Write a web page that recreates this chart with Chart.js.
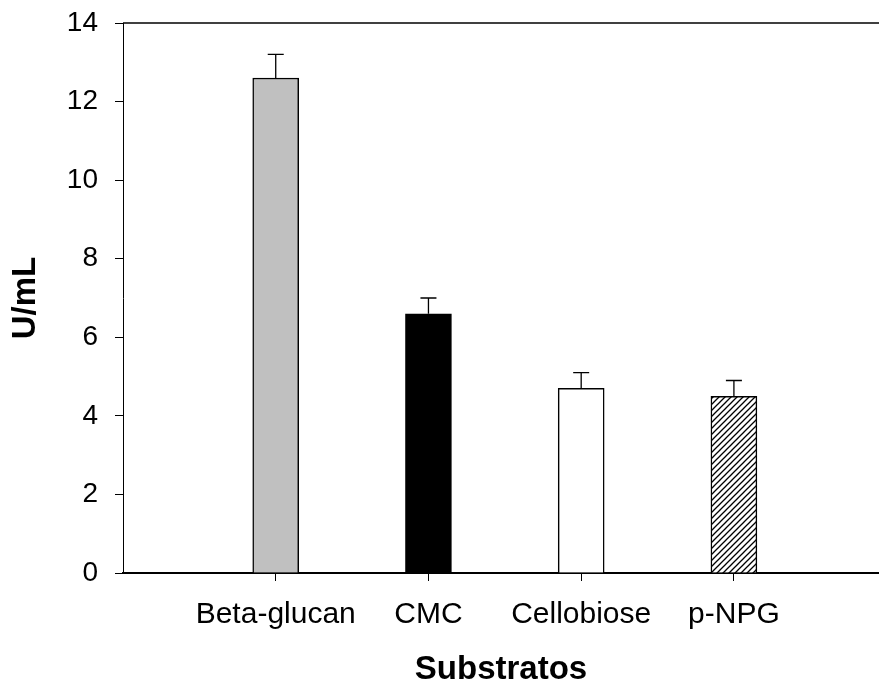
<!DOCTYPE html>
<html>
<head>
<meta charset="utf-8">
<script src="https://cdn.jsdelivr.net/npm/chart.js@4.4.0/dist/chart.umd.min.js"></script>
<style>
  html, body { margin: 0; padding: 0; background: #fff; }
  #wrap { width: 879px; height: 686px; }
</style>
</head>
<body>
<div id="wrap"><canvas id="myChart" width="879" height="686"></canvas></div>
<script>
var categories = ["Beta-glucan", "CMC", "Cellobiose", "p-NPG"];
var positions = [1, 2, 3, 4];
var values = [12.6, 6.6, 4.7, 4.5];
var errors = [0.6, 0.4, 0.4, 0.4];
var yTicks = [0, 2, 4, 6, 8, 10, 12, 14];

// hatch for the last bar
var hatch = document.createElement("canvas");
hatch.width = 6;
hatch.height = 6;
var hctx = hatch.getContext("2d");
hctx.fillStyle = "#fff";
hctx.fillRect(0, 0, 6, 6);
hctx.strokeStyle = "#000";
hctx.lineWidth = 1.3;
hctx.beginPath();
hctx.moveTo(0, 6); hctx.lineTo(6, 0);
hctx.moveTo(-3, 3); hctx.lineTo(3, -3);
hctx.moveTo(3, 9); hctx.lineTo(9, 3);
hctx.stroke();
var hatchPattern = hctx.createPattern(hatch, "repeat");

var barColors = ["#c0c0c0", "#000000", "#ffffff", hatchPattern];

var points = positions.map(function (p, i) { return {x: p, y: values[i]}; });

var errorBars = {
    id: "errorBars",
    afterDatasetsDraw: function (chart) {
        var ctx = chart.ctx;
        var xs = chart.scales.x, ys = chart.scales.y;
        ctx.save();
        ctx.strokeStyle = "#000";
        ctx.lineWidth = 1.3;
        for (var i = 0; i < values.length; i++) {
            var px = xs.getPixelForValue(positions[i]);
            var y0 = ys.getPixelForValue(values[i]);
            var y1 = ys.getPixelForValue(values[i] + errors[i]);
            ctx.beginPath();
            ctx.moveTo(px, y0);
            ctx.lineTo(px, y1);
            ctx.moveTo(px - 8, y1);
            ctx.lineTo(px + 8, y1);
            ctx.stroke();
        }
        // top frame line
        var a = chart.chartArea;
        ctx.lineWidth = 1.5;
        ctx.beginPath();
        ctx.moveTo(a.left, a.top);
        ctx.lineTo(879, a.top);
        ctx.stroke();
        ctx.restore();
    }
};

new Chart("myChart", {
    type: "bar",
    data: {
        datasets: [{
            data: points,
            backgroundColor: barColors,
            borderColor: "#000",
            borderWidth: 1.5,
            barThickness: 46
        }]
    },
    options: {
        responsive: false,
        animation: false,
        layout: {padding: {top: 23, right: 0, bottom: 0, left: 0}},
        plugins: {
            legend: {display: false},
            tooltip: {enabled: false}
        },
        scales: {
            x: {
                type: "linear",
                offset: false,
                min: 0,
                max: 4.95,
                afterBuildTicks: function (axis) {
                    axis.ticks = positions.map(function (p) { return {value: p}; });
                },
                afterFit: function (axis) { axis.height = 113; axis.paddingLeft = 0; axis.paddingRight = 0; },
                grid: {offset: false, drawOnChartArea: false, drawTicks: true, tickLength: 8, color: "#000", lineWidth: 1},
                border: {display: true, color: "#000", width: 2},
                ticks: {
                    color: "#000",
                    padding: 16,
                    maxRotation: 0,
                    autoSkip: false,
                    font: {family: "Liberation Sans", size: 30},
                    callback: function (v) {
                        var i = positions.indexOf(v);
                        return i >= 0 ? categories[i] : "";
                    }
                },
                title: {
                    display: true,
                    text: "Substratos",
                    color: "#000",
                    font: {family: "Liberation Sans", size: 33, weight: "bold", lineHeight: 1},
                    padding: {top: 0, bottom: 0}
                }
            },
            y: {
                min: 0,
                max: 14,
                afterBuildTicks: function (axis) {
                    axis.ticks = yTicks.map(function (v) { return {value: v}; });
                },
                afterFit: function (axis) { axis.width = 123; axis.paddingTop = 0; axis.paddingBottom = 0; },
                grid: {drawOnChartArea: false, drawTicks: true, tickLength: 8, color: "#000", lineWidth: 1},
                border: {display: true, color: "#000", width: 1},
                ticks: {
                    color: "#000",
                    padding: 17,
                    font: {family: "Liberation Sans", size: 28}
                },
                title: {
                    display: true,
                    text: "U/mL",
                    color: "#000",
                    font: {family: "Liberation Sans", size: 33, weight: "bold", lineHeight: 1},
                    padding: {top: 9, bottom: 0}
                }
            }
        }
    },
    plugins: [errorBars]
});
</script>
</body>
</html>
